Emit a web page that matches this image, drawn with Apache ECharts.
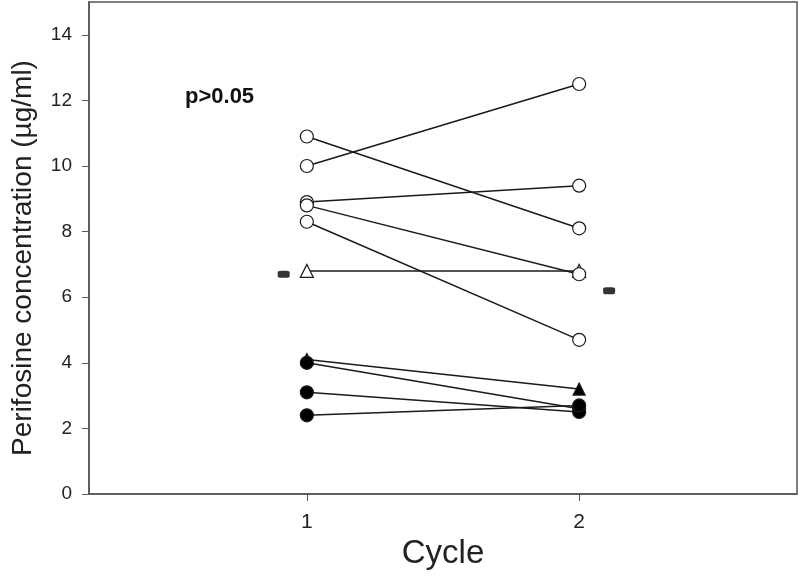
<!DOCTYPE html>
<html><head><meta charset="utf-8">
<script src="https://cdn.jsdelivr.net/npm/echarts@6/dist/echarts.min.js"></script>
<style>html,body{margin:0;padding:0;background:#fff}#c{width:800px;height:576px}</style>
</head><body><div id="c"></div>
<script>
var cycles = [1, 2];
var cycle1 = [10.0, 10.9, 8.9, 8.8, 8.3, 6.8, 4.1, 4.0, 3.1, 2.4];
var cycle2 = [12.5, 8.1, 9.4, 6.7, 4.7, 6.8, 3.2, 2.6, 2.5, 2.7];
var kinds  = ['openCircle','openCircle','openCircle','openCircle','openCircle','openTriangle','filledTriangle','filledCircle','filledCircle','filledCircle'];
var meanX = [0.915, 2.11];
var meanY = [6.7, 6.2];
var yTicks = [0, 2, 4, 6, 8, 10, 12, 14];
var xTicks = [1, 2];

var styles = {
  openCircle: {symbol:'circle', size:13, fill:'#fff'},
  openTriangle: {symbol:'triangle', size:13, fill:'#fff'},
  filledTriangle: {symbol:'triangle', size:12, fill:'#000'},
  filledCircle: {symbol:'circle', size:13, fill:'#000'}
};
// draw triangles first so circles overlay them
var order = [5, 6, 0, 1, 2, 3, 4, 7, 8, 9];
var series = order.map(function(i){
  var s = styles[kinds[i]];
  return {
    type:'line', symbol:s.symbol, symbolSize:s.size, showSymbol:true,
    data:[[cycles[0], cycle1[i]], [cycles[1], cycle2[i]]],
    lineStyle:{color:'#1a1a1a', width:1.5},
    itemStyle:{color:s.fill, borderColor:'#1a1a1a', borderWidth:1.2},
    animation:false, z:2
  };
});
series.push({
  type:'scatter', symbol:'roundRect', symbolSize:[12,7],
  data: meanX.map(function(x,i){return [x, meanY[i]];}),
  itemStyle:{color:'#000'}, animation:false, z:3
});

var chart = echarts.init(document.getElementById('c'));
chart.setOption({
  animation:false,
  grid:{left:89, right:3, top:2, bottom:82, show:true, borderColor:'#555', borderWidth:1.5, backgroundColor:'transparent'},
  xAxis:{
    type:'value', min:0.2, max:2.8,
    name:'Cycle', nameLocation:'middle', nameGap:43,
    nameTextStyle:{fontFamily:'Liberation Sans, Arial', fontSize:33, color:'#222'},
    axisLine:{show:true, lineStyle:{color:'#555', width:1.5}},
    axisTick:{show:true, length:7, customValues:xTicks, lineStyle:{color:'#555'}},
    axisLabel:{customValues:xTicks, margin:18, fontFamily:'Liberation Sans, Arial', fontSize:21, color:'#222'},
    splitLine:{show:false}
  },
  yAxis:{
    type:'value', min:0, max:15,
    name:'Perifosine concentration (\u00b5g/ml)', nameLocation:'middle', nameGap:52,
    nameTextStyle:{fontFamily:'Liberation Sans, Arial', fontSize:28, color:'#222', padding:[0,20,0,0]},
    axisLine:{show:true, lineStyle:{color:'#555', width:1.5}},
    axisTick:{show:true, length:7, customValues:yTicks, lineStyle:{color:'#555'}},
    axisLabel:{customValues:yTicks, margin:17, fontFamily:'Liberation Sans, Arial', fontSize:19, color:'#222'},
    splitLine:{show:false}
  },
  graphic:[{type:'text', left:185, top:86, style:{text:'p>0.05', font:'bold 22px "Liberation Sans", Arial', fill:'#111'}}],
  series:series
});
</script></body></html>
